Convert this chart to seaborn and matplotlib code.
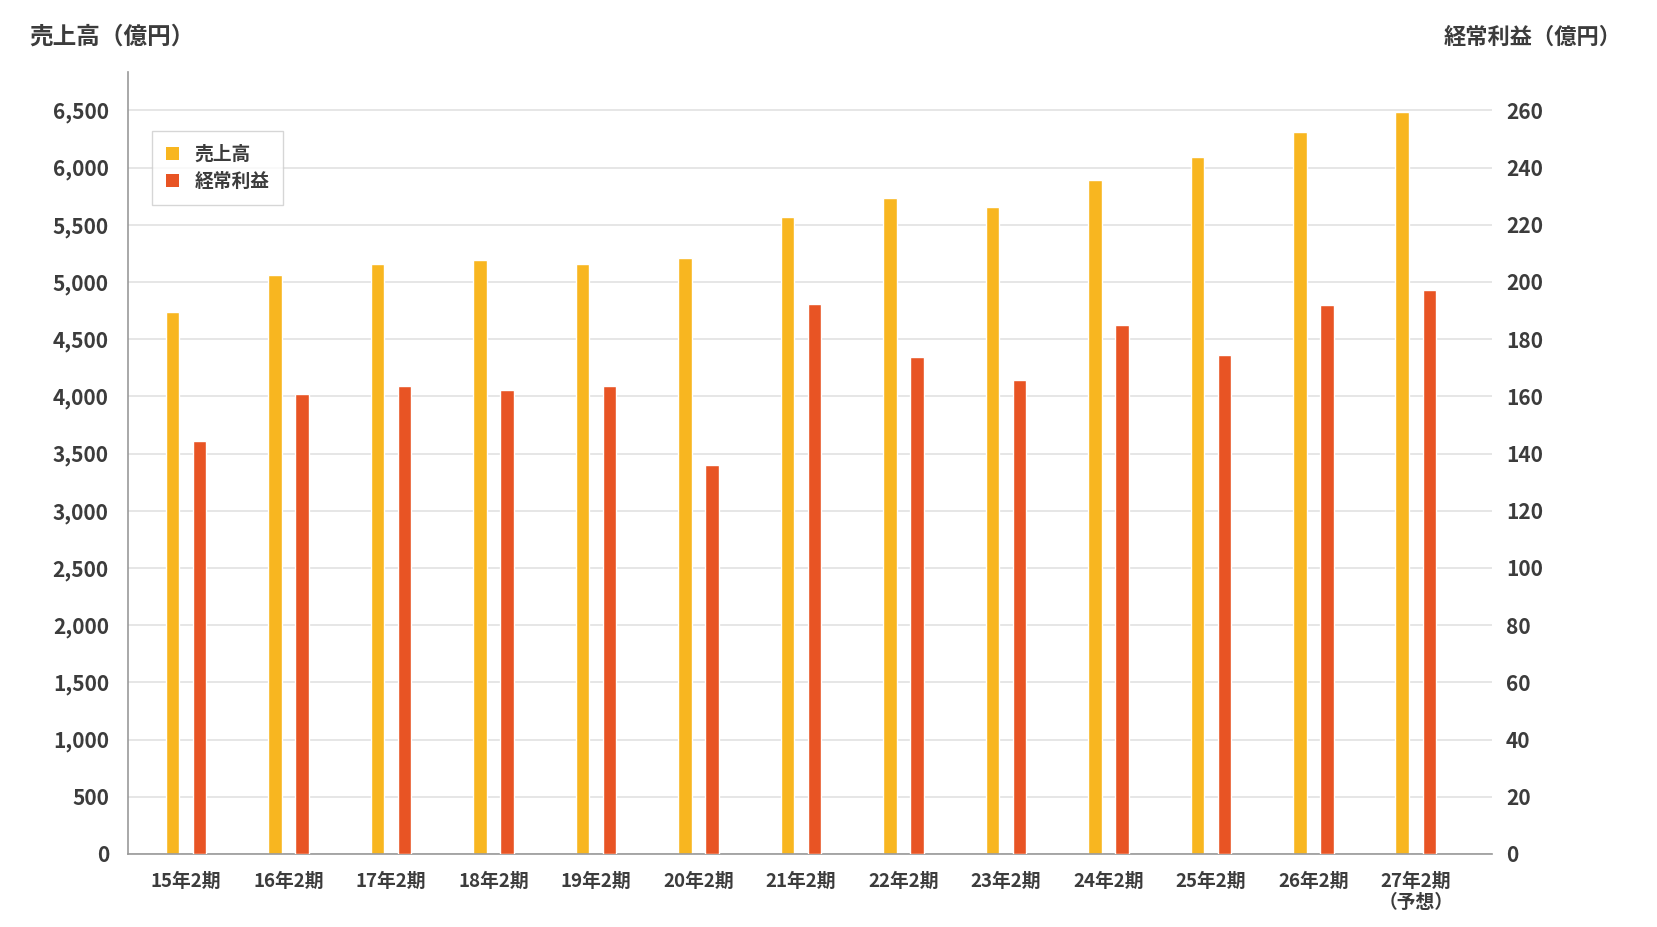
import numpy as np
import pandas as pd
import seaborn as sns
import matplotlib.pyplot as plt
from matplotlib.patches import Patch
from matplotlib.ticker import FuncFormatter

# data
periods = ['15年2期', '16年2期', '17年2期', '18年2期', '19年2期', '20年2期', '21年2期',
           '22年2期', '23年2期', '24年2期', '25年2期', '26年2期', '27年2期\n（予想）']
sales = [4735, 5060, 5155, 5190, 5155, 5207, 5565, 5731, 5653, 5889, 6090, 6308, 6483]
profit = [144.3, 160.8, 163.6, 162.2, 163.6, 136.0, 192.2, 173.7, 165.6, 184.9, 174.4, 191.9, 197.1]
series_names = ['売上高', '経常利益']
colors = ['#F8B620', '#E85424']
sales_ticks = list(range(0, 6501, 500))
profit_ticks = list(range(0, 261, 20))

sns.set_theme(style='white')
plt.rcParams['font.family'] = ['Noto Sans CJK JP', 'DejaVu Sans']
text_color = '#3c3c3c'

df_sales = pd.DataFrame({'period': periods, 'value': sales, 'series': series_names[0]})
df_profit = pd.DataFrame({'period': periods, 'value': profit, 'series': series_names[1]})

fig = plt.figure(figsize=(16.58, 9.27), dpi=100)
ax = fig.add_axes([0.0774, 0.0788, 0.8226, 0.8435])
ax2 = ax.twinx()

# each axis draws one series, both dodged into their own slot
palette = dict(zip(series_names, colors))
bar_kw = dict(x='period', y='value', hue='series', hue_order=series_names,
              order=periods, palette=palette, width=0.527, gap=0.5, dodge=True,
              saturation=1, legend=False, errorbar=None)
sns.barplot(data=df_sales, ax=ax, **bar_kw)
sns.barplot(data=df_profit, ax=ax2, **bar_kw)

ax.set_xlim(-0.563, 12.746)
ax.set_ylim(0, 6835)
ax2.set_ylim(0, 6835 / 25)
ax.set_yticks(sales_ticks)
ax2.set_yticks(profit_ticks)
ax.yaxis.set_major_formatter(FuncFormatter(lambda v, p: f'{int(v):,}'))

ax.grid(axis='y', color='#e2e2e2', linewidth=1.2)
ax.set_axisbelow(True)
ax2.grid(False)
ax.set_zorder(ax2.get_zorder() - 1)
ax.patch.set_visible(False)
ax2.patch.set_visible(False)

for a in (ax, ax2):
    a.set_xlabel('')
    a.set_ylabel('')
    for s in a.spines.values():
        s.set_visible(False)
    a.tick_params(length=0)

for side in ('left', 'bottom'):
    ax.spines[side].set_visible(True)
    ax.spines[side].set_color('#999999')
    ax.spines[side].set_linewidth(1.2)

ax.tick_params(axis='y', pad=14, labelsize=15, labelcolor=text_color)
ax2.tick_params(axis='y', pad=10, labelsize=15, labelcolor=text_color)
ax.tick_params(axis='x', pad=13, labelsize=13.5, labelcolor=text_color)
for lab in ax.get_yticklabels() + ax2.get_yticklabels():
    lab.set_fontweight('bold')
for lab in ax.get_xticklabels():
    lab.set_fontweight('bold')
    lab.set_linespacing(1.1)

fig.text(29 / 1658, 1 - 37 / 927, '売上高（億円）', fontsize=17, fontweight='bold',
         color=text_color, ha='left', va='center')
fig.text(1622 / 1658, 1 - 37 / 927, '経常利益（億円）', fontsize=16, fontweight='bold',
         color=text_color, ha='right', va='center')

handles = [Patch(facecolor=c, edgecolor='none') for c in colors]
leg = ax2.legend(handles, series_names, loc='upper left', bbox_to_anchor=(0.0175, 0.925),
                 frameon=True, fancybox=False, edgecolor='#cccccc', fontsize=13.5,
                 handlelength=0.7, handleheight=0.7, handletextpad=0.8,
                 labelspacing=0.45, borderpad=0.75, borderaxespad=0)
leg.get_frame().set_linewidth(1.0)
for t in leg.get_texts():
    t.set_color(text_color)
    t.set_fontweight('bold')

fig.savefig('out.png', dpi=100)
